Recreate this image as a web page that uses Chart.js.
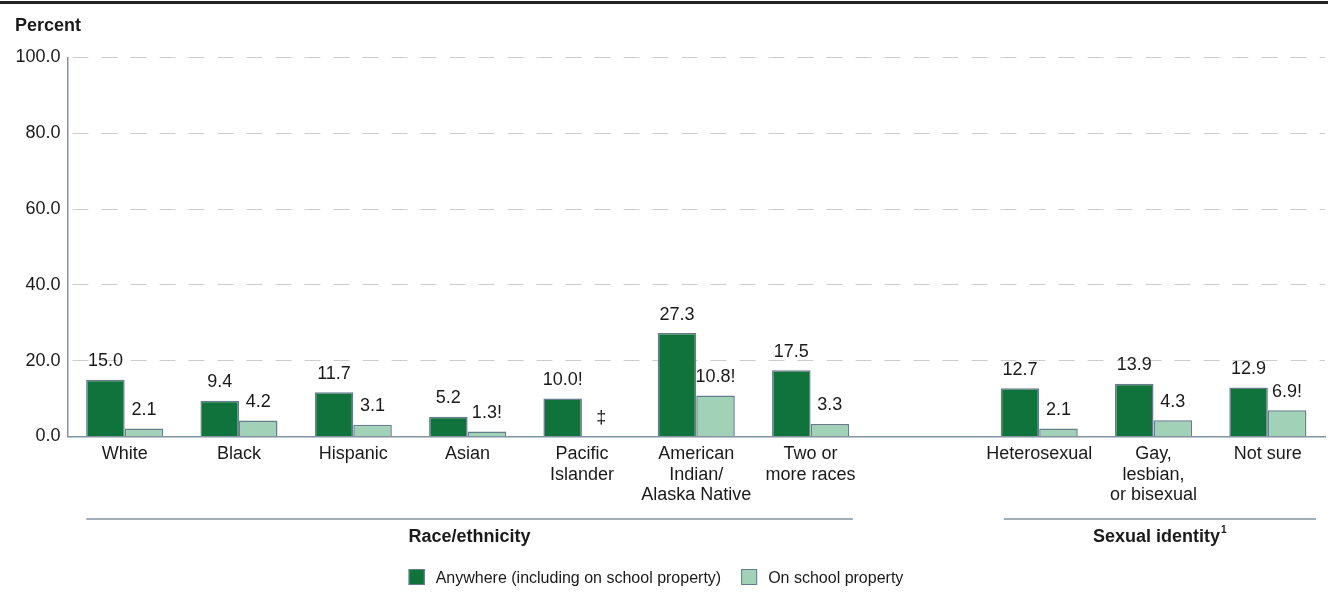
<!DOCTYPE html>
<html>
<head>
<meta charset="utf-8">
<script src="https://cdn.jsdelivr.net/npm/chart.js@4.4.1/dist/chart.umd.min.js"></script>
<style>
  html, body { margin: 0; padding: 0; background: #ffffff; }
  #wrap { width: 1328px; height: 596px; position: relative; }
</style>
</head>
<body>
<div id="wrap"><canvas id="c" width="1328" height="596"></canvas></div>
<script>
// ---- Data ----
const categories = ['White', 'Black', 'Hispanic', 'Asian', ['Pacific', 'Islander'],
  ['American', 'Indian/', 'Alaska Native'], ['Two or', 'more races'], '',
  'Heterosexual', ['Gay,', 'lesbian,', 'or bisexual'], 'Not sure'];
const anywhere = [15.0, 9.4, 11.7, 5.2, 10.0, 27.3, 17.5, null, 12.7, 13.9, 12.9];
const onSchool = [2.1, 4.2, 3.1, 1.3, null, 10.8, 3.3, null, 2.1, 4.3, 6.9];
const anywhereLabels = ['15.0', '9.4', '11.7', '5.2', '10.0!', '27.3', '17.5', '', '12.7', '13.9', '12.9'];
const onSchoolLabels = ['2.1', '4.2', '3.1', '1.3!', '‡', '10.8!', '3.3', '', '2.1', '4.3', '6.9!'];
const seriesNames = ['Anywhere (including on school property)', 'On school property'];
const yTicks = [0, 20, 40, 60, 80, 100];
const groupNames = ['Race/ethnicity', 'Sexual identity'];
const groupSup = ['', '1'];
const groupFirst = [0, 8];
const groupLast = [6, 10];
const axisTitle = 'Percent';

// ---- Styles ----
const DARK = '#10733b';
const LIGHT = '#a1d2b7';
const BAR_BORDER = '#667d8b';
const AXIS = '#7f95a3';
const GRID = '#cccccc';
const FONT = '"Liberation Sans", Arial, Helvetica, sans-serif';
const TEXT = '#1a1a1a';

const extras = {
  id: 'extras',
  afterDraw(chart) {
    const ctx = chart.ctx;
    const xs = chart.scales.x, ys = chart.scales.y;
    ctx.save();
    // top rule
    ctx.fillStyle = '#222222';
    ctx.fillRect(0, 1, chart.width, 3);
    // axis title
    ctx.fillStyle = TEXT;
    ctx.font = 'bold 18px ' + FONT;
    ctx.textAlign = 'left';
    ctx.textBaseline = 'alphabetic';
    ctx.fillText(axisTitle, 15, 31);

    // data labels
    ctx.font = '18px ' + FONT;
    ctx.textAlign = 'center';
    const labelSets = [anywhereLabels, onSchoolLabels];
    chart.data.datasets.forEach((ds, di) => {
      const meta = chart.getDatasetMeta(di);
      meta.data.forEach((el, i) => {
        const txt = labelSets[di][i];
        if (!txt) return;
        const v = ds.data[i];
        const top = (v == null) ? ys.getPixelForValue(0) : el.y;
        ctx.fillText(txt, el.x, top - 13.5);
      });
    });

    // group lines and labels
    const slot = xs.width / categories.length;
    ctx.strokeStyle = AXIS;
    ctx.lineWidth = 1.5;
    const lineY = 519;
    for (let g = 0; g < groupNames.length; g++) {
      const x1 = g === 0 ? xs.getPixelForValue(groupFirst[g]) - slot * 0.336 : xs.getPixelForValue(groupFirst[g]) - slot * 0.31;
      const x2 = g === 0 ? xs.getPixelForValue(groupLast[g]) + slot * 0.37 : xs.getPixelForValue(groupLast[g]) + slot * 0.42;
      ctx.beginPath();
      ctx.moveTo(x1, lineY);
      ctx.lineTo(x2, lineY);
      ctx.stroke();
      const cx = (x1 + x2) / 2;
      ctx.font = 'bold 18px ' + FONT;
      const w = ctx.measureText(groupNames[g]).width;
      ctx.font = 'bold 10px ' + FONT;
      const ws = groupSup[g] ? ctx.measureText(groupSup[g]).width + 1 : 0;
      const sx = cx - (w + ws) / 2;
      ctx.textAlign = 'left';
      ctx.font = 'bold 18px ' + FONT;
      ctx.fillText(groupNames[g], sx, 541.5);
      if (groupSup[g]) {
        ctx.font = 'bold 10px ' + FONT;
        ctx.fillText(groupSup[g], sx + w + 1, 533);
      }
    }

    // legend
    ctx.font = '16px ' + FONT;
    ctx.textAlign = 'left';
    const boxS = 16, gapT = 11, gapI = 20;
    const w0 = ctx.measureText(seriesNames[0]).width;
    const w1 = ctx.measureText(seriesNames[1]).width;
    const total = boxS + gapT + w0 + gapI + boxS + gapT + w1;
    let lx = 656 - total / 2;
    const ly = 569;
    const cols = [DARK, LIGHT];
    const ws2 = [w0, w1];
    for (let k = 0; k < 2; k++) {
      ctx.fillStyle = cols[k];
      ctx.fillRect(lx, ly, boxS, boxS);
      ctx.strokeStyle = BAR_BORDER;
      ctx.lineWidth = 1;
      ctx.strokeRect(lx + 0.5, ly + 0.5, boxS - 1, boxS - 1);
      ctx.fillStyle = TEXT;
      ctx.fillText(seriesNames[k], lx + boxS + gapT, ly + 14);
      lx += boxS + gapT + ws2[k] + gapI;
    }
    ctx.restore();
  }
};

new Chart(document.getElementById('c'), {
  type: 'bar',
  data: {
    labels: categories,
    datasets: [
      { label: seriesNames[0], data: anywhere, backgroundColor: DARK, borderColor: BAR_BORDER, borderWidth: 1.5 },
      { label: seriesNames[1], data: onSchool, backgroundColor: LIGHT, borderColor: BAR_BORDER, borderWidth: 1.5 }
    ]
  },
  options: {
    responsive: false,
    animation: false,
    devicePixelRatio: 1,
    layout: { padding: { top: 57.5, right: 3, left: 0, bottom: 0 } },
    datasets: { bar: { barPercentage: 1.0, categoryPercentage: 0.674 } },
    plugins: { legend: { display: false }, tooltip: { enabled: false } },
    scales: {
      x: {
        grid: { display: false },
        border: { display: true, color: AXIS, width: 1.5 },
        ticks: { color: TEXT, font: { family: FONT, size: 18, lineHeight: 1.15 }, padding: -1, maxRotation: 0, autoSkip: false },
        afterFit(s) { s.height = 596 - 436.5; }
      },
      y: {
        min: 0, max: 100,
        afterBuildTicks(s) { s.ticks = yTicks.map(v => ({ value: v })); },
        grid: {
          color: (c) => (c.tick && c.tick.value === 0) ? 'rgba(0,0,0,0)' : GRID,
          lineWidth: 1,
          drawTicks: false
        },
        border: { display: true, color: AXIS, width: 1.5, dash: [16, 13], dashOffset: -4 },
        ticks: { color: TEXT, font: { family: FONT, size: 18 }, padding: 7, callback: (v) => Number(v).toFixed(1) },
        afterFit(s) { s.width = 67.5; }
      }
    }
  },
  plugins: [extras]
});
</script>
</body>
</html>
